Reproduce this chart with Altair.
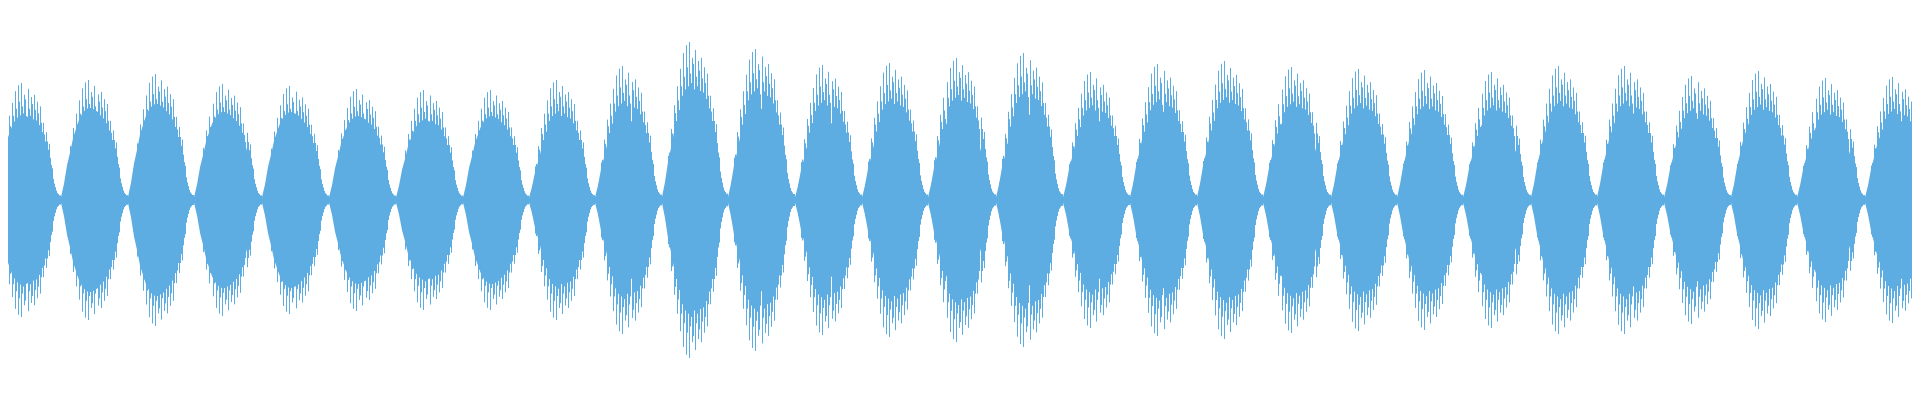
import altair as alt
import pandas as pd

# Node (quiet point) positions of the waveform, in picture pixels
nodes = [-6, 61, 128, 194, 262, 329, 396, 463, 529, 595,
         662, 728, 795, 862, 928, 996, 1063, 1130, 1197, 1263,
         1331, 1397, 1463, 1531, 1597, 1664, 1731, 1797, 1865, 1932]

# Height (px above the centre line) of the solid core of each lobe
core_peak = [85, 92, 96, 88, 88, 84, 80, 84, 73, 82,
             100, 93, 80, 82, 87, 87, 82, 90, 90, 87,
             86, 87, 85, 90, 90, 83, 88, 82, 82]

# Height of the tallest spikes of each lobe
spike_peak = [117, 120, 126, 116, 114, 111, 110, 110, 120, 134,
              158, 151, 135, 137, 142, 147, 128, 136, 139, 133,
              131, 130, 128, 134, 134, 124, 129, 122, 123]

# Shape of one lobe, read at 23 steps from node to node (relative to its peak)
core_profile = [0.03, 0.18, 0.38, 0.52, 0.68, 0.78, 0.88, 0.94, 0.98, 1.0, 1.0, 0.98,
                0.96, 0.92, 0.86, 0.78, 0.68, 0.58, 0.42, 0.20, 0.08, 0.05, 0.03]
spike_profile = [0.02, 0.12, 0.28, 0.45, 0.60, 0.72, 0.83, 0.93, 0.98, 1.0, 0.90, 0.95,
                 0.88, 0.90, 0.84, 0.80, 0.66, 0.58, 0.48, 0.27, 0.11, 0.05, 0.02]
# Secondary bars between the tall spikes (relative to the lobe's spike peak)
mid_a_profile = [0.02, 0.13, 0.30, 0.42, 0.55, 0.63, 0.72, 0.78, 0.84, 0.80, 0.86, 0.78,
                 0.82, 0.77, 0.74, 0.66, 0.56, 0.50, 0.36, 0.18, 0.08, 0.04, 0.02]
mid_b_profile = [0.02, 0.12, 0.27, 0.38, 0.50, 0.57, 0.66, 0.70, 0.72, 0.74, 0.70, 0.72,
                 0.69, 0.68, 0.64, 0.58, 0.50, 0.43, 0.30, 0.14, 0.06, 0.04, 0.02]

core_rows = []
bar_rows = []
n = len(core_profile) - 1
for i in range(len(core_peak)):
    left, right = nodes[i], nodes[i + 1]
    last = n + 1 if i == len(core_peak) - 1 else n
    for j in range(last):
        x = left + j * (right - left) / n
        c = core_peak[i] * core_profile[j]
        core_rows.append({"x": x, "lo": -c, "hi": c})
        base = round(x) + 0.5
        for off, prof in ((0, spike_profile), (1, mid_a_profile), (2, mid_b_profile)):
            s = spike_peak[i] * prof[j]
            bar_rows.append({"x": base + off, "lo": -s, "hi": s})

core_df = pd.DataFrame(core_rows)
bar_df = pd.DataFrame(bar_rows)

COLOR = "#5dade2"
xs = alt.Scale(domain=[8, 1912], nice=False, zero=False)
ys = alt.Scale(domain=[-192, 192], nice=False, zero=False)

core = alt.Chart(core_df).mark_area(color=COLOR, clip=True, interpolate="linear").encode(
    x=alt.X("x:Q", scale=xs, axis=None),
    y=alt.Y("lo:Q", scale=ys, axis=None),
    y2="hi:Q",
)

bars = alt.Chart(bar_df).mark_rule(color=COLOR, strokeWidth=1, clip=True).encode(
    x=alt.X("x:Q", scale=xs, axis=None),
    y=alt.Y("lo:Q", scale=ys, axis=None),
    y2="hi:Q",
)

chart = (core + bars).properties(
    width=1904,
    height=384,
    padding=0,
    autosize=alt.AutoSizeParams(type="fit", contains="padding"),
).configure_view(stroke=None)

chart.save("out.html", embed_options={"renderer": "svg", "actions": False})
